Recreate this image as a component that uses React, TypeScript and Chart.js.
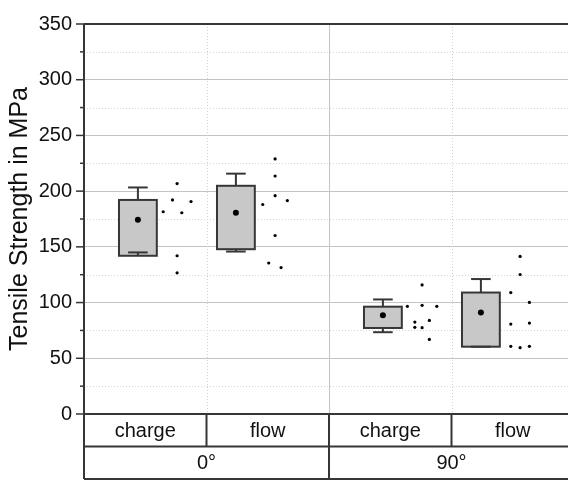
import React, { useEffect, useRef } from "react";
import { Chart, registerables } from "chart.js";

Chart.register(...registerables);

// ---- data ----
const groupLabels = ["0°", "90°"];
const categoryLabels = ["charge", "flow", "charge", "flow"];
const boxPositions = [0.55, 1.55, 3.05, 4.05];
const q1Values = [142.0, 147.9, 77.2, 60.4];
const q3Values = [192.1, 204.8, 96.3, 109.0];
const whiskerLow = [145.0, 145.8, 73.4, 60.4];
const whiskerHigh = [203.3, 215.7, 102.8, 121.1];
const meanValues = [174.4, 180.6, 88.7, 91.0];

const rawCharge0 = [206.8, 192.1, 190.6, 181.5, 180.6, 142.0, 126.7];
const rawFlow0 = [228.9, 213.6, 195.9, 188.0, 191.5, 160.2, 135.5, 131.4];
const rawCharge90 = [115.8, 96.6, 97.5, 96.6, 82.5, 84.0, 77.8, 77.5, 66.9];
const rawFlow90 = [141.4, 125.2, 109.0, 100.1, 80.7, 81.6, 60.7, 59.5, 60.7];
const rawValues = [rawCharge0, rawFlow0, rawCharge90, rawFlow90];

// horizontal spread of raw points (x units, beeswarm-like)
const spreadCharge0 = [0, -0.047, 0.142, -0.142, 0.048, 0, 0];
const spreadFlow0 = [0, 0, 0, -0.126, 0.125, 0, -0.065, 0.061];
const spreadCharge90 = [0, -0.15, 0, 0.15, -0.074, 0.074, -0.074, 0, 0.074];
const spreadFlow90 = [0, 0, -0.095, 0.095, -0.095, 0.095, -0.095, 0, 0.095];
const rawSpread = [spreadCharge0, spreadFlow0, spreadCharge90, spreadFlow90];

const yTickValues = [0, 50, 100, 150, 200, 250, 300, 350];

const X_MAX = 5;
const RAW_OFFSET = 0.4;
const BOX_HALF = 0.193;
const CAP_HALF = 0.1;

const FONT = "'Liberation Sans', Arial, Helvetica, sans-serif";
const DARK = "#363636";

function line(ctx: CanvasRenderingContext2D, x1: number, y1: number, x2: number, y2: number) {
  ctx.beginPath();
  ctx.moveTo(x1, y1);
  ctx.lineTo(x2, y2);
  ctx.stroke();
}

const boxPlugin = {
  id: "boxplots",
  beforeDatasetsDraw(chart: any) {
    const { ctx, chartArea } = chart;
    const x = chart.scales.x;
    const y = chart.scales.y;
    ctx.save();
    // minor dotted horizontal grid
    ctx.strokeStyle = "#d6d6d6";
    ctx.lineWidth = 1;
    ctx.setLineDash([1, 2]);
    for (let i = 0; i < yTickValues.length - 1; i++) {
      const v = (yTickValues[i] + yTickValues[i + 1]) / 2;
      const py = Math.round(y.getPixelForValue(v)) + 0.5;
      line(ctx, chartArea.left, py, chartArea.right, py);
    }
    // vertical grid lines at category boundaries
    const cell = X_MAX / categoryLabels.length;
    for (let i = 1; i < categoryLabels.length; i++) {
      const px = Math.round(x.getPixelForValue(i * cell)) + 0.5;
      if (i === categoryLabels.length / 2) {
        ctx.setLineDash([]);
        ctx.strokeStyle = "#c4c4c4";
      } else {
        ctx.setLineDash([1, 2]);
        ctx.strokeStyle = "#d0d0d0";
      }
      line(ctx, px, chartArea.top, px, chartArea.bottom);
    }
    ctx.setLineDash([]);

    // boxes
    for (let i = 0; i < boxPositions.length; i++) {
      const pos = boxPositions[i];
      const left = x.getPixelForValue(pos - BOX_HALF);
      const right = x.getPixelForValue(pos + BOX_HALF);
      const cx = x.getPixelForValue(pos);
      const top = y.getPixelForValue(q3Values[i]);
      const bottom = y.getPixelForValue(q1Values[i]);
      ctx.fillStyle = "#c8c8c8";
      ctx.fillRect(left, top, right - left, bottom - top);
      ctx.strokeStyle = DARK;
      ctx.lineWidth = 2;
      ctx.strokeRect(left, top, right - left, bottom - top);
      // whiskers
      const wh = y.getPixelForValue(whiskerHigh[i]);
      const wl = y.getPixelForValue(whiskerLow[i]);
      const cl = x.getPixelForValue(pos - CAP_HALF);
      const cr = x.getPixelForValue(pos + CAP_HALF);
      line(ctx, cx, top, cx, wh);
      line(ctx, cl, wh, cr, wh);
      line(ctx, cx, bottom, cx, wl);
      line(ctx, cl, wl, cr, wl);
    }
    ctx.restore();
  },
  afterDraw(chart: any) {
    const { ctx, chartArea, height } = chart;
    const x = chart.scales.x;
    const y = chart.scales.y;
    ctx.save();
    ctx.strokeStyle = DARK;
    ctx.lineWidth = 2;
    const L = chartArea.left;
    const R = chartArea.right;
    const T = chartArea.top;
    const B = chartArea.bottom;
    const rowMid = B + (height - 1 - B) / 2;
    const tableBottom = height - 1;
    // frame top & axes
    line(ctx, L, T, R, T);
    line(ctx, L, T, L, tableBottom);
    line(ctx, R, T, R, tableBottom);
    line(ctx, L, B, R, B);
    line(ctx, L, rowMid, R, rowMid);
    line(ctx, L, tableBottom, R, tableBottom);
    // y tick marks (major + minor)
    ctx.lineWidth = 1.5;
    for (let i = 0; i < yTickValues.length; i++) {
      const py = y.getPixelForValue(yTickValues[i]);
      line(ctx, L - 8, py, L, py);
      if (i < yTickValues.length - 1) {
        const pm = y.getPixelForValue((yTickValues[i] + yTickValues[i + 1]) / 2);
        line(ctx, L - 4, pm, L, pm);
      }
    }
    // table cells
    ctx.lineWidth = 2;
    const cell = X_MAX / categoryLabels.length;
    for (let i = 1; i < categoryLabels.length; i++) {
      const px = x.getPixelForValue(i * cell);
      const isGroup = i === categoryLabels.length / 2;
      line(ctx, px, B, px, isGroup ? tableBottom : rowMid);
    }
    ctx.fillStyle = "#111";
    ctx.font = `20px ${FONT}`;
    ctx.textAlign = "center";
    ctx.textBaseline = "middle";
    for (let i = 0; i < categoryLabels.length; i++) {
      const px = x.getPixelForValue((i + 0.5) * cell);
      ctx.fillText(categoryLabels[i], px, (B + rowMid) / 2 + 1);
    }
    const gcell = X_MAX / groupLabels.length;
    for (let i = 0; i < groupLabels.length; i++) {
      const px = x.getPixelForValue((i + 0.5) * gcell);
      ctx.fillText(groupLabels[i], px, (rowMid + tableBottom) / 2 + 1);
    }
    ctx.restore();
  },
};

export default function App() {
  const canvasRef = useRef<HTMLCanvasElement | null>(null);

  useEffect(() => {
    document.body.style.margin = "0";
    document.body.style.overflow = "hidden";
    const canvas = canvasRef.current;
    if (!canvas) return;

    const rawPoints: { x: number; y: number }[] = [];
    rawValues.forEach((vals, i) => {
      vals.forEach((v, j) => {
        rawPoints.push({ x: boxPositions[i] + RAW_OFFSET + rawSpread[i][j], y: v });
      });
    });
    const meanPoints = meanValues.map((v, i) => ({ x: boxPositions[i], y: v }));

    const chart = new Chart(canvas, {
      type: "scatter",
      data: {
        datasets: [
          {
            label: "raw",
            data: rawPoints,
            pointRadius: 1.6,
            pointBackgroundColor: "#000",
            pointBorderWidth: 0,
          },
          {
            label: "mean",
            data: meanPoints,
            pointRadius: 3,
            pointBackgroundColor: "#000",
            pointBorderWidth: 0,
          },
        ],
      },
      options: {
        animation: false,
        responsive: false,
        maintainAspectRatio: false,
        layout: { padding: { top: 18, right: 2, bottom: 66, left: 0 } },
        plugins: {
          legend: { display: false },
          tooltip: { enabled: false },
        },
        scales: {
          x: {
            type: "linear",
            min: 0,
            max: X_MAX,
            display: false,
          },
          y: {
            min: 0,
            max: 350,
            afterFit: (scale: any) => {
              scale.width = 84;
            },
            border: { display: false },
            grid: {
              drawTicks: false,
              color: (c: any) =>
                c.tick && c.tick.value % 50 === 0 ? "#c4c4c4" : "rgba(0,0,0,0)",
              lineWidth: 1,
            },
            ticks: {
              stepSize: 25,
              padding: 12,
              color: "#111",
              font: { family: FONT, size: 20 },
              callback: (v: any) => (Number(v) % 50 === 0 ? String(v) : ""),
            },
            title: {
              display: true,
              text: "Tensile Strength in MPa",
              color: "#111",
              font: { family: FONT, size: 25 },
              padding: { top: 5, bottom: 0 },
            },
          },
        },
      },
      plugins: [boxPlugin],
    });
    return () => chart.destroy();
  }, []);

  return (
    <div style={{ width: 568, height: 480, overflow: "hidden", background: "#fff" }}>
      <canvas ref={canvasRef} width={578} height={480} style={{ display: "block" }} />
    </div>
  );
}
